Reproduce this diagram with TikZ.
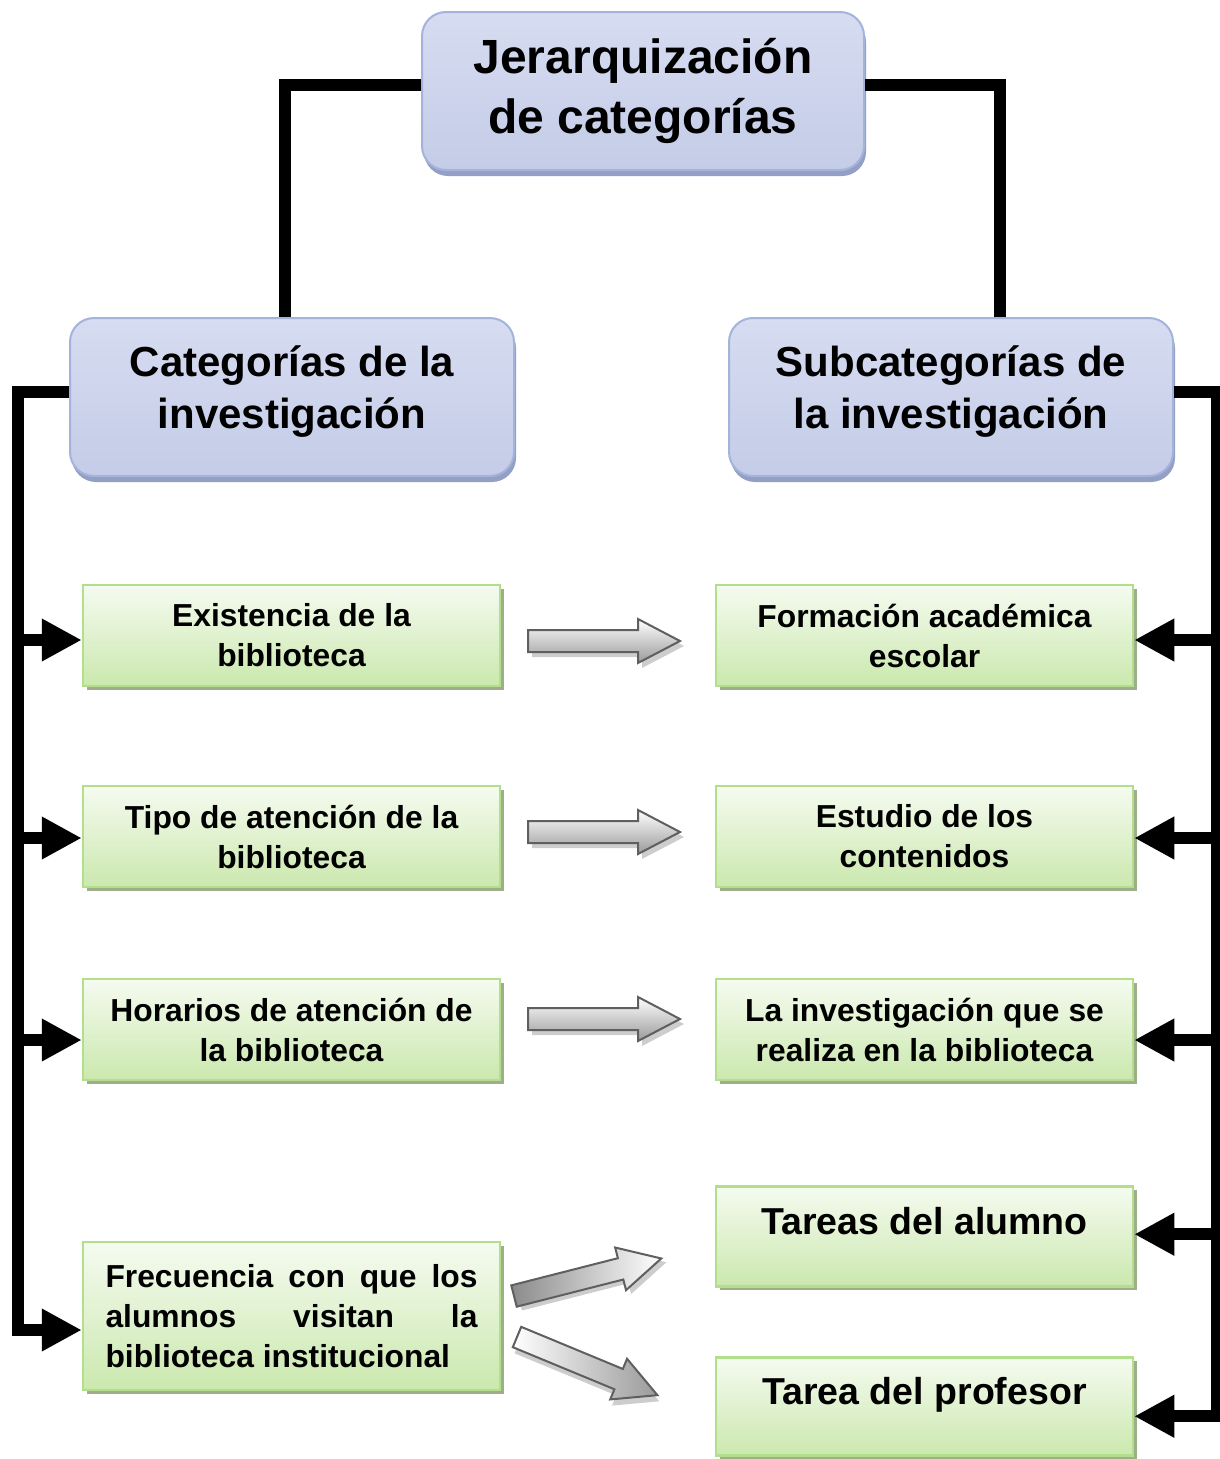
\documentclass[tikz,border=0pt]{standalone}
\usepackage{fontspec}
\setmainfont{Liberation Sans}
\usetikzlibrary{arrows.meta,shadows}
\definecolor{blueborder}{HTML}{A4B3DC}
\definecolor{bluetop}{HTML}{D6DCF1}
\definecolor{bluemid}{HTML}{ECEEF8}
\definecolor{bluebot}{HTML}{C4CCE7}
\definecolor{blueshadow}{HTML}{939FC4}
\definecolor{greenborder}{HTML}{B2DF8C}
\definecolor{greentop}{HTML}{F5FBF0}
\definecolor{greenbot}{HTML}{CBE8AE}
\definecolor{greenshadow}{HTML}{9DAE88}
\definecolor{arrowedge}{HTML}{5F5F5F}
\definecolor{arrowgray}{HTML}{9A9A9A}
\definecolor{arrowshadow}{HTML}{CDCDCD}
\begin{document}
\begin{tikzpicture}[x=1pt,y=-1pt,
  bluebox/.style={draw=blueborder, line width=2pt, rounded corners=24pt,
    top color=bluetop, middle color=bluemid, bottom color=bluebot,
    drop shadow={fill=blueshadow, opacity=1, shadow xshift=2pt, shadow yshift=-6pt},
    align=center, inner sep=0pt},
  greenbox/.style={draw=greenborder, line width=2.5pt,
    top color=greentop, bottom color=greenbot,
    drop shadow={fill=greenshadow, opacity=1, shadow xshift=4pt, shadow yshift=-4pt},
    minimum width=417pt, minimum height=101pt, inner sep=0pt, align=center,
    font=\fontsize{31.8}{40}\selectfont\bfseries},
  bigtext/.style={font=\fontsize{48}{60}\selectfont\bfseries},
  midtext/.style={font=\fontsize{42}{52}\selectfont\bfseries},
  conn/.style={draw=black, line width=12pt, line join=miter},
  tip/.style={-{Triangle[length=40pt,width=40pt]}},
  harrow/.style={draw=arrowedge, line width=2pt, top color=white, bottom color=arrowgray},
  uparrow/.style={draw=arrowedge, line width=2pt, left color=arrowgray!90!black, right color=white},
  downarrow/.style={draw=arrowedge, line width=2pt, left color=white, right color=arrowgray},
  blockarrow/.pic={
    \fill[arrowshadow, shift={(4,5)}] (0,-11) -- (110,-11) -- (110,-22) -- (152,0) -- (110,22) -- (110,11) -- (0,11) -- cycle;
    \path[pic actions] (0,-11) -- (110,-11) -- (110,-22) -- (152,0) -- (110,22) -- (110,11) -- (0,11) -- cycle;
  }]
\useasboundingbox (0,0) rectangle (1220,1459);
\clip (0,0) rectangle (1220,1459);

% boxes
\node[bluebox, bigtext, minimum width=442pt, minimum height=158pt] (top) at (643,91) {Jerarquización\\de categorías};
\node[bluebox, midtext, minimum width=444pt, minimum height=158pt] (cat) at (292,397)
  {\raisebox{5pt}[\height][\depth]{\begin{tabular}{@{}c@{}}Categorías de la\\investigación\end{tabular}}};
\node[bluebox, midtext, minimum width=444pt, minimum height=158pt] (sub) at (951,397)
  {\raisebox{5pt}[\height][\depth]{\begin{tabular}{@{}c@{}}Subcategorías de\\la investigación\end{tabular}}};

\node[greenbox] (e1) at (291.5,635.5) {Existencia de la\\biblioteca};
\node[greenbox] (e2) at (291.5,836.5) {Tipo de atención de la\\biblioteca};
\node[greenbox] (e3) at (291.5,1029.5) {Horarios de atención de\\la biblioteca};
\node[greenbox, minimum height=148pt, text width=372pt, align=justify] (f4) at (291.5,1316)
  {Frecuencia con que los\linebreak alumnos visitan la\linebreak biblioteca institucional};

\node[greenbox] (s1) at (924.5,635.5) {Formación académica\\escolar};
\node[greenbox] (s2) at (924.5,836.5) {Estudio de los\\contenidos};
\node[greenbox] (s3) at (924.5,1029.5) {La investigación que se\\realiza en la biblioteca};
\node[greenbox, anchor=north, minimum height=0pt, font=\fontsize{37.5}{44}\selectfont\bfseries,
  text height=48pt, text depth=52pt] (s4) at (924.5,1185) {Tareas del alumno};
\node[greenbox, anchor=north, minimum height=0pt, font=\fontsize{37.5}{44}\selectfont\bfseries,
  text height=47pt, text depth=51pt] (s5) at (924.5,1356) {Tarea del profesor};

% block arrows
\pic[harrow] (h1) at (528,641) {blockarrow};
\pic[harrow] (h2) at (528,832) {blockarrow};
\pic[harrow] (h3) at (528,1019) {blockarrow};
\pic[uparrow, rotate=14.3] (d1) at (514,1296) {blockarrow};
\pic[downarrow, rotate=-22.5] (d2) at (517,1337) {blockarrow};

% connectors from top
\draw[conn] ([yshift=6pt]top.west) -| ([xshift=-7pt]cat.north);
\draw[conn] ([yshift=6pt]top.east) -| ([xshift=49pt]sub.north);

% left bus
\coordinate (lbus) at (18,392);
\draw[conn, tip] ([yshift=5pt]cat.west) -- (lbus) |- ([yshift=-14pt]f4.west);
\draw[conn, tip] (lbus |- e1.west) ++(0,4.5) -- ([yshift=-4.5pt]e1.west);
\draw[conn, tip] (lbus |- e2.west) ++(0,1.5) -- ([yshift=-1.5pt]e2.west);
\draw[conn, tip] (lbus |- e3.west) ++(0,10.5) -- ([yshift=-10.5pt]e3.west);

% right bus
\coordinate (rbus) at (1217,392);
\draw[conn, tip] ([yshift=5pt]sub.east) -- (rbus) |- ([yshift=-10pt]s5.east);
\draw[conn, tip] (rbus |- s1.east) ++(0,4.5) -- ([yshift=-4.5pt]s1.east);
\draw[conn, tip] (rbus |- s2.east) ++(0,1.5) -- ([yshift=-1.5pt]s2.east);
\draw[conn, tip] (rbus |- s3.east) ++(0,10.5) -- ([yshift=-10.5pt]s3.east);
\draw[conn, tip] (rbus |- s4.east) ++(0,-2) -- ([yshift=2pt]s4.east);
\end{tikzpicture}
\end{document}
